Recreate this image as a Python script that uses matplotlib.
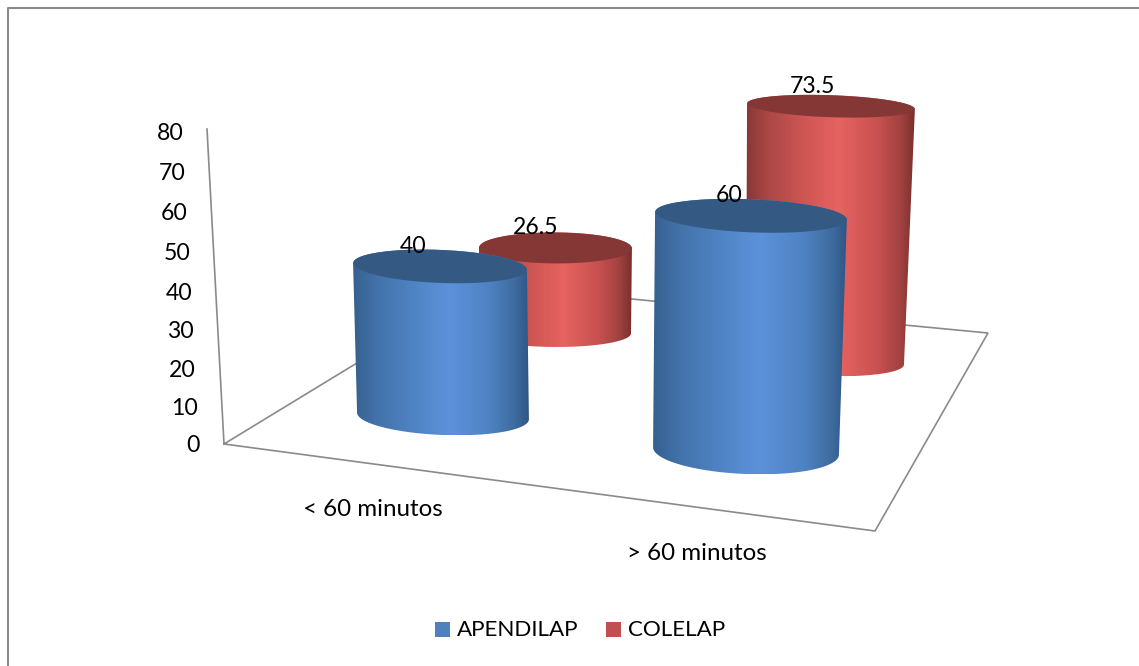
import numpy as np
import matplotlib
matplotlib.use('Agg')
import matplotlib.pyplot as plt
from matplotlib.path import Path
from matplotlib.patches import PathPatch, Rectangle
from matplotlib.colors import LinearSegmentedColormap

# data
categories = ['< 60 minutos', '> 60 minutos']
series_names = ['APENDILAP', 'COLELAP']
apendilap = [40, 60]
colelap = [26.5, 73.5]
y_ticks = [0, 10, 20, 30, 40, 50, 60, 70, 80]

plt.rcParams['font.family'] = ['Lato', 'DejaVu Sans']
FS_NUM = 16.6
FS_CAT = 17.4
FS_LEG = 16.1
GRAY = '#8a8a8a'

# bar layout in pixels: (series, cat): base x, base y, rx, ry, rx top, ry top, top dx, px per unit, tilt, label dx
layout = {
    (1, 0): dict(cx=555, cy=333, rx=76, ry=14, trx=76.5, try_=15.5, dx=0.5, scale=3.21, tilt=0.3, ldx=-20),
    (1, 1): dict(cx=825, cy=362, rx=79, ry=14, trx=84, try_=11, dx=6, scale=3.48, tilt=2.0, ldx=-19),
    (0, 0): dict(cx=443, cy=416, rx=86, ry=19, trx=87, try_=16.5, dx=-3, scale=3.74, tilt=2.3, ldx=-27),
    (0, 1): dict(cx=746, cy=451, rx=93, ry=23, trx=96, try_=16.5, dx=5, scale=3.92, tilt=2.4, ldx=-22),
}
values = {0: apendilap, 1: colelap}

cmaps = [
    LinearSegmentedColormap.from_list('blue', [(0, '#35608f'), (0.12, '#4271a8'), (0.35, '#4f84c4'),
                                               (0.55, '#5c92da'), (0.78, '#4e82c2'), (0.92, '#3f6c9f'), (1, '#305686')]),
    LinearSegmentedColormap.from_list('red', [(0, '#873735'), (0.12, '#a94745'), (0.35, '#cf5654'),
                                              (0.55, '#e66361'), (0.78, '#c85150'), (0.92, '#a04240'), (1, '#7a2f2d')]),
]
top_colors = ['#345983', '#853735']
legend_colors = ['#4f81bd', '#c0504d']


def ellipse(cx, cy, rx, ry, tilt, t):
    a = np.radians(tilt)
    ex = rx * np.cos(t)
    ey = ry * np.sin(t)
    return cx + ex * np.cos(a) - ey * np.sin(a), cy + ex * np.sin(a) + ey * np.cos(a)


def draw_bar(ax, s, c):
    b = layout[(s, c)]
    v = values[s][c]
    top_x = b['cx'] + b['dx']
    top_y = b['cy'] - v * b['scale']

    # body outline, lower arc of the base then upper arc of the top
    t1 = np.linspace(np.pi, 0, 80)
    t2 = np.linspace(0, -np.pi, 80)
    bx, by = ellipse(b['cx'], b['cy'], b['rx'], b['ry'], b['tilt'], t1)
    tx, ty = ellipse(top_x, top_y, b['trx'], b['try_'], b['tilt'], t2)
    xs = np.r_[bx, tx]
    ys = np.r_[by, ty]
    body = PathPatch(Path(np.c_[xs, ys]), fc='none', ec='none', transform=ax.transData)
    ax.add_patch(body)
    im = ax.imshow(np.linspace(0, 1, 256).reshape(1, -1), cmap=cmaps[s], aspect='auto',
                   extent=[xs.min(), xs.max(), ys.max(), ys.min()], zorder=2 + s * -0.1 + (1 - s))
    im.set_clip_path(body)

    # top face
    t3 = np.linspace(0, 2 * np.pi, 160)
    ex, ey = ellipse(top_x, top_y, b['trx'] - 0.5, b['try_'], b['tilt'], t3)
    ax.fill(ex, ey, color=top_colors[s], lw=0, zorder=im.get_zorder() + 0.01)
    return top_x + b['ldx'], top_y - 20, v


fig = plt.figure(figsize=(11.39, 6.66), dpi=100)
ax = fig.add_axes([0, 0, 1, 1])
ax.set_xlim(0, 1139)
ax.set_ylim(666, 0)
ax.axis('off')

# outer frame, only left and top show
ax.plot([7.5, 7.5, 1139], [666, 7.5, 7.5], color=GRAY, lw=1.5, zorder=1)

# walls and floor
ax.plot([207, 224, 875, 988, 485, 224], [129, 444, 531, 333, 285, 444], color=GRAY, lw=1.2, zorder=1,
        solid_joinstyle='miter')

# value axis labels, slight perspective on the spacing
for v in y_ticks:
    py = 446 - 3.74 * v / (1 - 0.00055 * v)
    px = 200 - 16 * v / 80
    ax.text(px, py, str(v), ha='right', va='center', fontsize=FS_NUM, color='black')

labels = []
for s, c in [(1, 0), (1, 1), (0, 0), (0, 1)]:
    labels.append(draw_bar(ax, s, c))
for lx, ly, v in labels:
    ax.text(lx, ly, f'{v:g}', ha='center', va='center', fontsize=FS_NUM, color='black', zorder=6)

ax.set_xlim(0, 1139)
ax.set_ylim(666, 0)

# category labels
ax.text(372.5, 510, categories[0], ha='center', va='center', fontsize=FS_CAT, color='black')
ax.text(696.5, 554, categories[1], ha='center', va='center', fontsize=FS_CAT, color='black')

# legend
ax.add_patch(Rectangle((435, 622), 15, 15, fc=legend_colors[0], ec='none'))
ax.text(457, 630, series_names[0], ha='left', va='center', fontsize=FS_LEG, color='black')
ax.add_patch(Rectangle((606, 622), 15, 15, fc=legend_colors[1], ec='none'))
ax.text(628, 630, series_names[1], ha='left', va='center', fontsize=FS_LEG, color='black')

fig.savefig('out.png', dpi=100, facecolor='white')
